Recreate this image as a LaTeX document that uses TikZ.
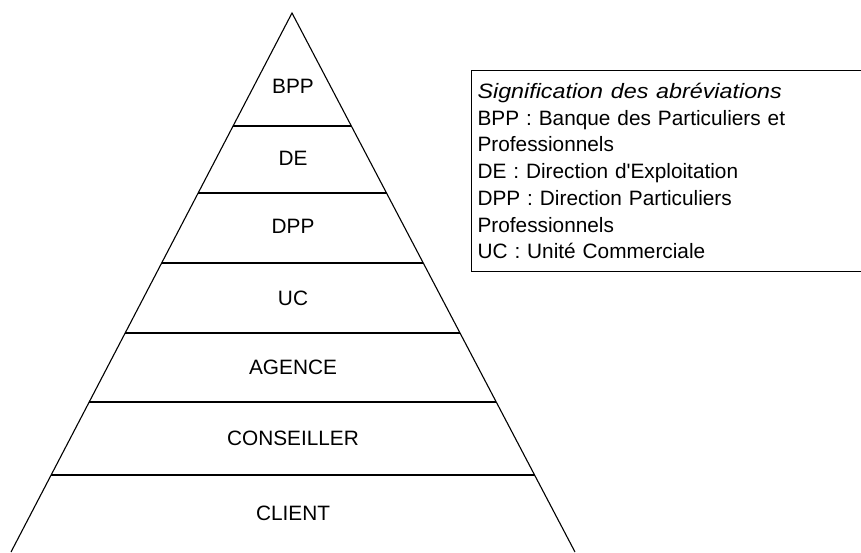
\documentclass[tikz,border=0pt]{standalone}
\usepackage{fontspec}
\setmainfont{Liberation Sans}
\usetikzlibrary{calc}

\begin{document}
\begin{tikzpicture}[x=1pt,y=-1pt,line width=1.1pt,
                    font=\fontsize{20.8}{26.7}\selectfont]

  \tikzstyle{level}=[inner sep=0pt,anchor=center]
  \tikzstyle{legend}=[draw,anchor=north west,align=left,text width=420pt,
                      minimum height=201pt,inner xsep=6pt,inner ysep=7pt]

  \useasboundingbox (0,0) rectangle (861,552);

  \coordinate (top) at (292,13);
  \coordinate (bl)  at (11,552);
  \coordinate (br)  at (575,552);

  % sides of the pyramid
  \draw (bl) -- (top) -- (br);

  % level separators
  \draw ($(top)!0.2096!(bl)$) -- ($(top)!0.2096!(br)$);
  \draw ($(top)!0.3340!(bl)$) -- ($(top)!0.3340!(br)$);
  \draw ($(top)!0.4638!(bl)$) -- ($(top)!0.4638!(br)$);
  \draw ($(top)!0.5937!(bl)$) -- ($(top)!0.5937!(br)$);
  \draw ($(top)!0.7217!(bl)$) -- ($(top)!0.7217!(br)$);
  \draw ($(top)!0.8571!(bl)$) -- ($(top)!0.8571!(br)$);

  \node[level] (BPP) at (293,86)  {BPP};
  \node[level] (DE)  at (293,158) {DE};
  \node[level] (DPP) at (293,226) {DPP};
  \node[level] (UC)  at (293,298) {UC};
  \node[level] (AGC) at (293,367) {AGENCE};
  \node[level] (CSL) at (293,438) {CONSEILLER};
  \node[level] (CLT) at (293,513) {CLIENT};

  \node[legend] (SIG) at (471,70)
    {\scalebox{1.12}[1]{\textit{Signification des abréviations}}\\
     BPP : Banque des Particuliers et\\
     Professionnels\\
     DE : Direction d\textquotesingle Exploitation\\
     DPP : Direction Particuliers\\
     Professionnels\\
     UC : Unité Commerciale};
\end{tikzpicture}
\end{document}
